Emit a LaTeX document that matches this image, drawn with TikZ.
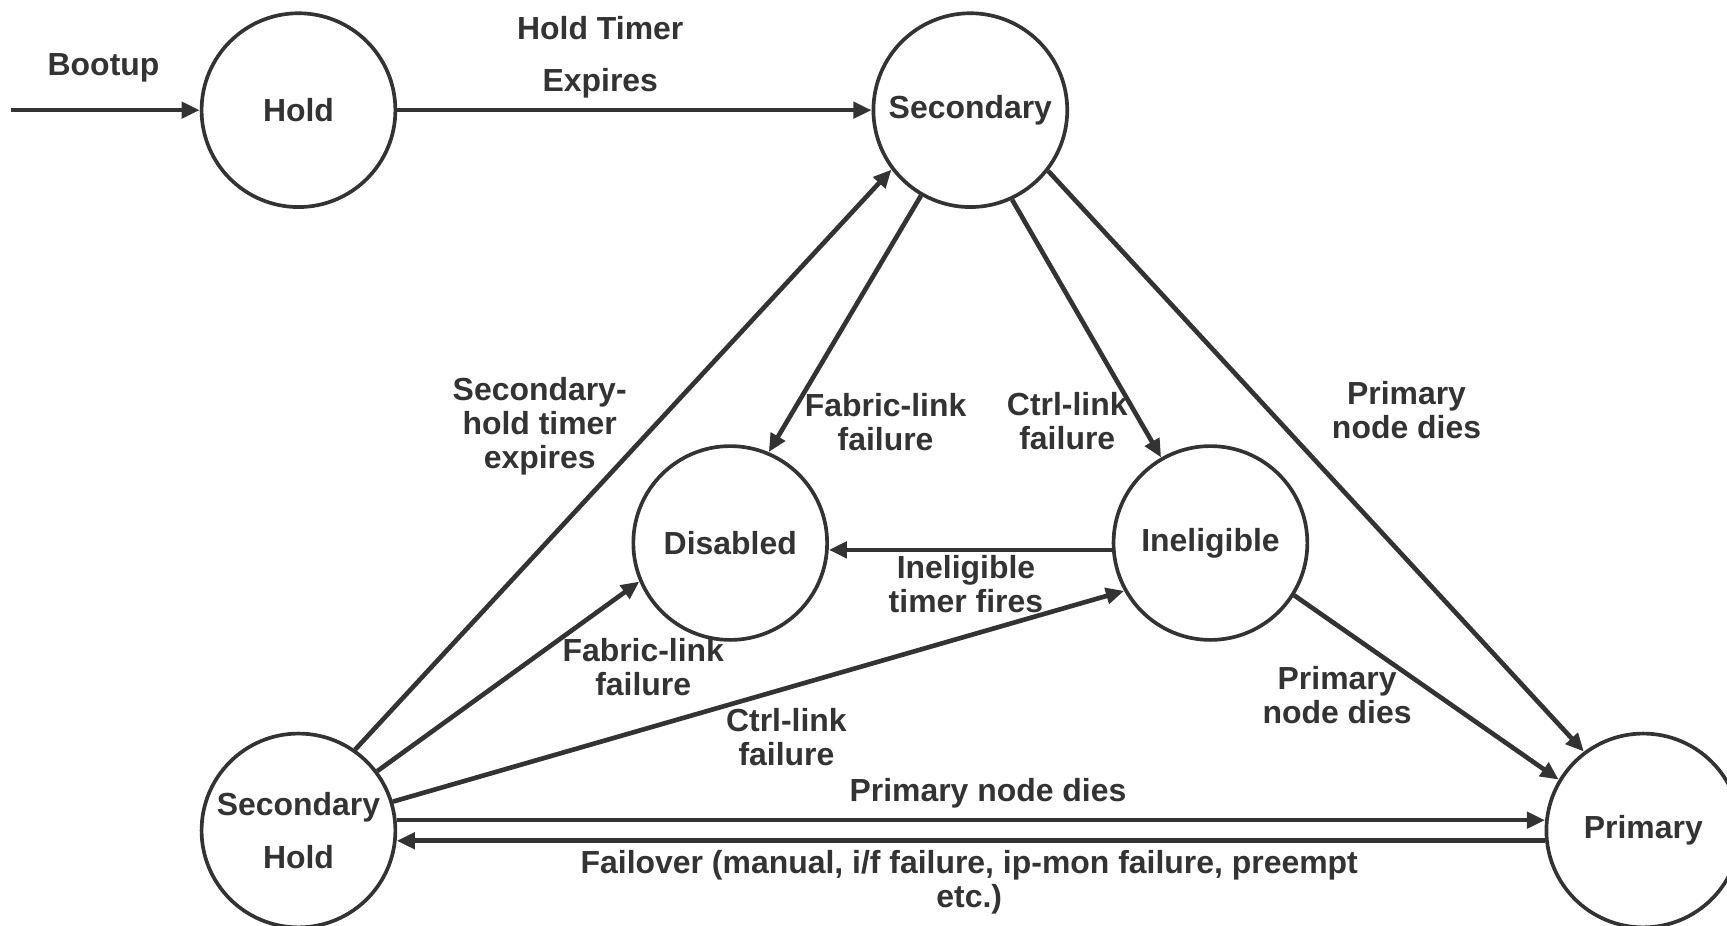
\documentclass[tikz,border=0pt]{standalone}
\usepackage{fontspec}
\setmainfont{Liberation Sans}
\usetikzlibrary{arrows.meta}
\definecolor{ink}{HTML}{333333}
\begin{document}
\begin{tikzpicture}[x=0.02cm,y=-0.02cm,
  state/.style={circle,draw=ink,line width=1.9pt,minimum size=3.52cm,inner sep=0pt,
    text=ink,font=\fontsize{16.5}{27.3}\selectfont\bfseries,align=center},
  trans/.style={draw=ink,line width=2.4pt,-{Triangle[length=0.33cm,width=0.29cm]}},
  lbl/.style={text=ink,font=\fontsize{16.5}{17.6}\selectfont\bfseries,align=center,inner sep=0pt},
  widelbl/.style={lbl,font=\fontsize{16.5}{27.3}\selectfont\bfseries}]
\useasboundingbox (0,0) rectangle (1568,840);

% states
\node[state] (hold)  at (271,100) {Hold};
\node[state] (sec)   at (881,100) {Secondary};
\node[state] (dis)   at (663,493) {Disabled};
\node[state] (inel)  at (1099,493) {Ineligible};
\node[state] (shold) at (271,754) {Secondary\\Hold};
\node[state] (prim)  at (1492,754) {Primary};

% entry point
\coordinate (boot) at (10,100);
\draw[trans] (boot) -- (hold.west);
\node[lbl] at (94,62) {Bootup};

% transitions
\draw[trans] (hold.east) -- (sec.west);
\node[widelbl] at (545,52) {Hold Timer\\Expires};

\draw[trans] (sec.240) -- (dis.67);
\node[lbl] at (804,383) {Fabric-link\\failure};

\draw[trans] (sec.295) -- (inel.120);
\node[lbl] at (969,382) {Ctrl-link\\failure};

\draw[trans] (sec.322) -- (prim.127);
\node[lbl] at (1277,372) {Primary\\node dies};

\draw[trans] (inel.184) -- (dis.356);
\node[lbl] at (877,530) {Ineligible\\timer fires};

\draw[trans] (inel.328) -- (prim.149);
\node[lbl] at (1214,631) {Primary\\node dies};

\draw[trans] (shold.55) -- (sec.217);
\node[lbl] at (490,387) {Secondary-\\hold timer\\expires};

\draw[trans] (shold.37) -- (dis.203);
\node[lbl] at (584,606) {Fabric-link\\failure};

\draw[trans] (shold.17) -- (inel.209);
\node[lbl] at (714,669) {Ctrl-link\\failure};

\draw[trans] (shold.6) -- (prim.174);
\node[lbl] at (897,720) {Primary node dies};

\draw[trans] (prim.186) -- (shold.354);
\node[lbl] at (880,801) {Failover (manual, i/f failure, ip-mon failure, preempt\\etc.)};
\end{tikzpicture}
\end{document}
